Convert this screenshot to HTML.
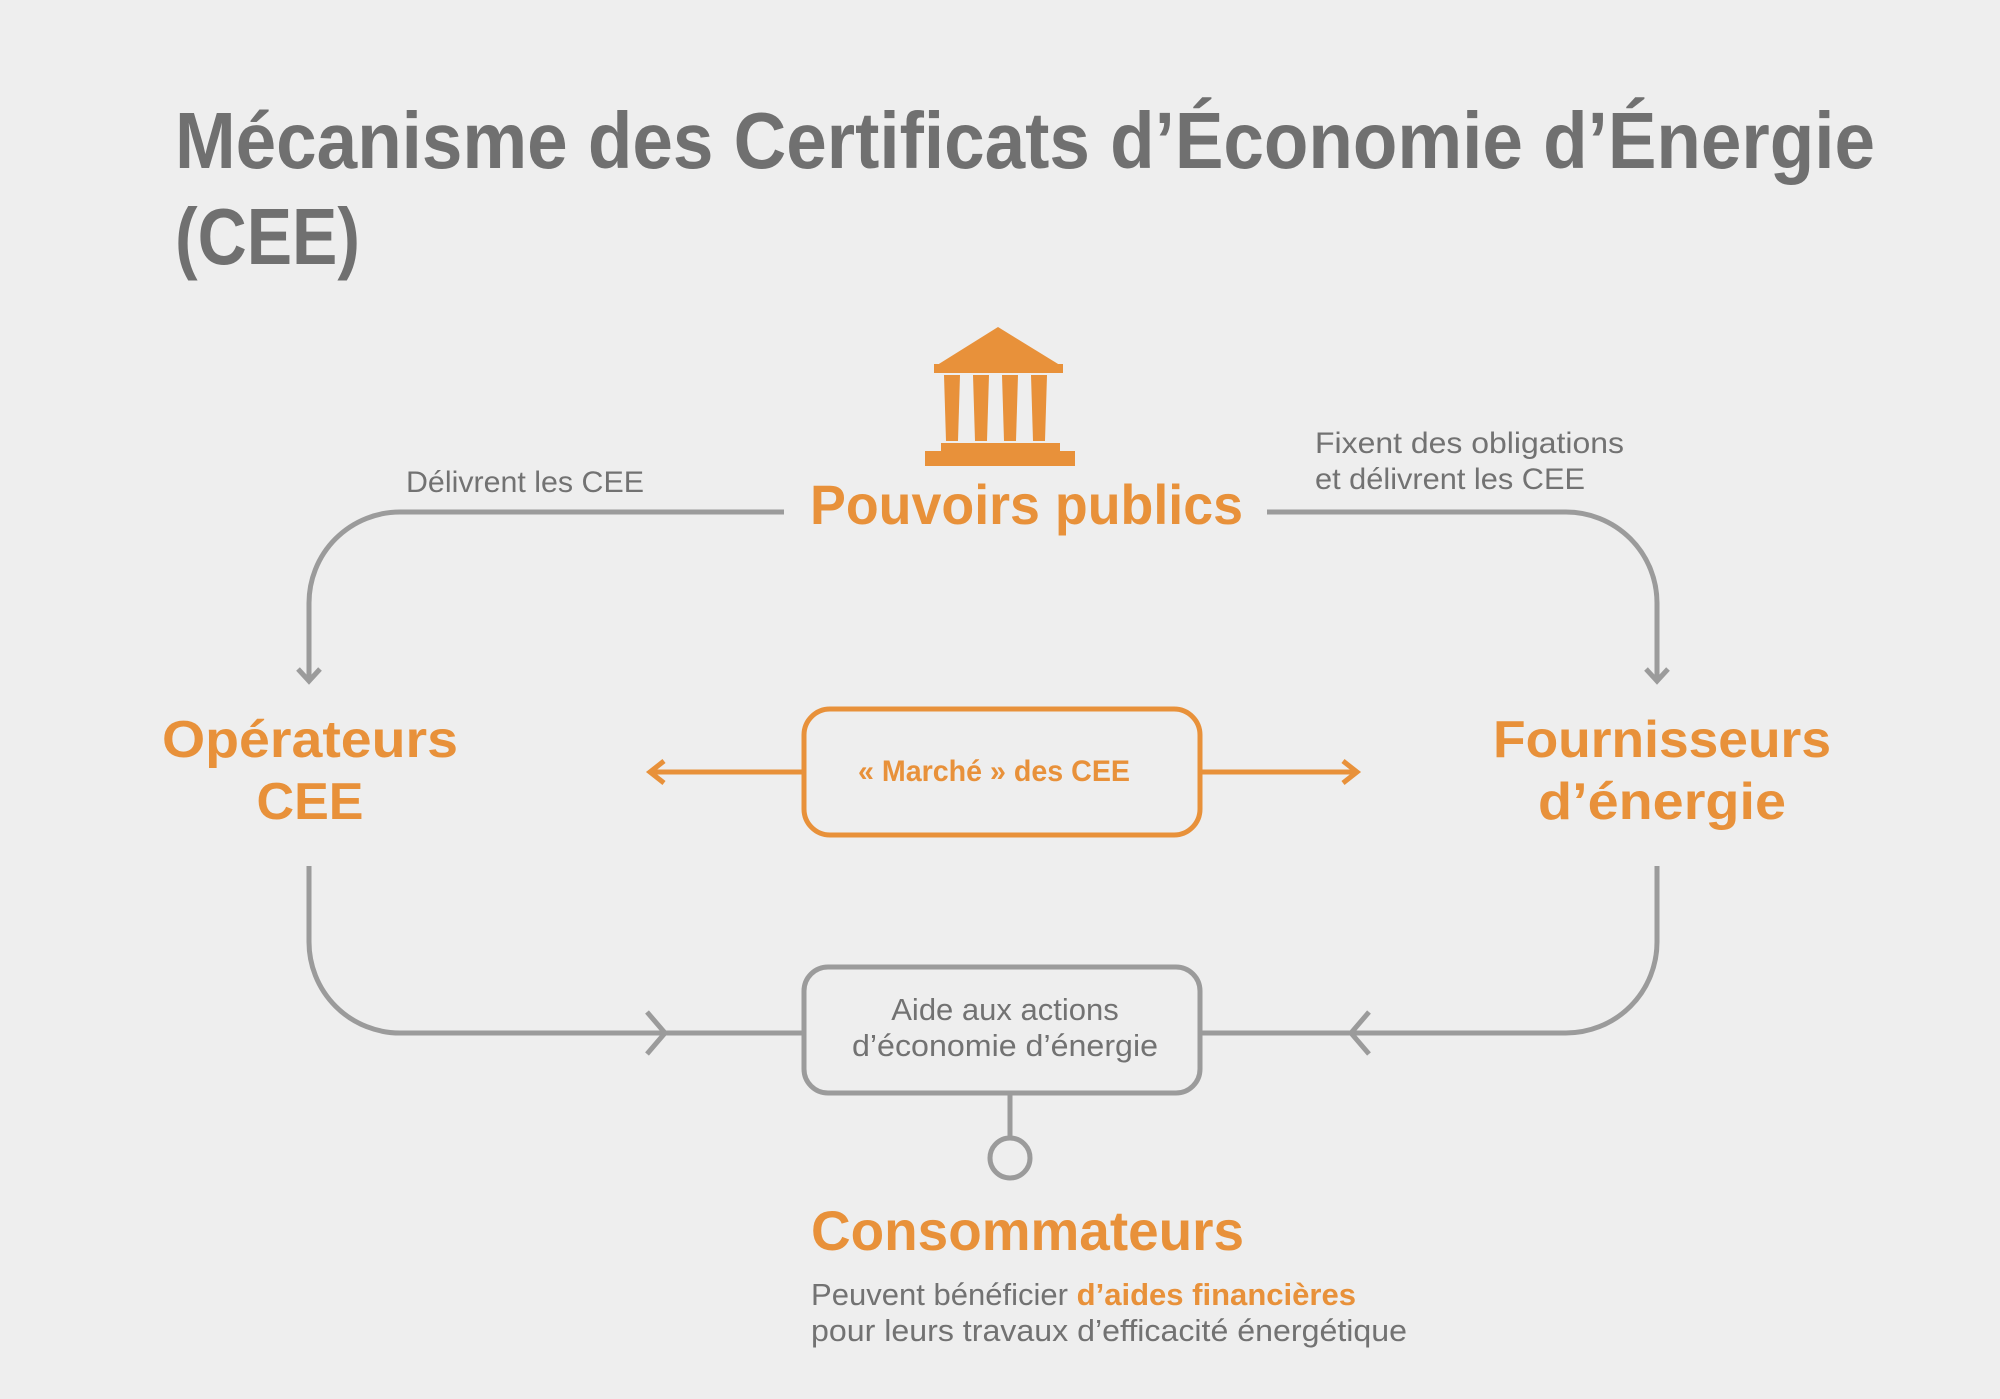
<!DOCTYPE html>
<html><head><meta charset="utf-8"><style>
html,body{margin:0;padding:0;background:#eeeeee;}
svg{display:block;}
text{font-family:"Liberation Sans",sans-serif;}
</style></head><body>
<svg width="2000" height="1399" viewBox="0 0 2000 1399" xmlns="http://www.w3.org/2000/svg">
<rect width="2000" height="1399" fill="#eeeeee"/>
<g fill="#707070" font-weight="bold" font-size="80">
<text x="175" y="168" textLength="1700" lengthAdjust="spacingAndGlyphs">Mécanisme des Certificats d’Économie d’Énergie</text>
<text x="175" y="264" textLength="185" lengthAdjust="spacingAndGlyphs">(CEE)</text>
</g>
<!-- icon -->
<g fill="#e8913a">
<polygon points="998,327 934,367 1063,367"/>
<rect x="934" y="364" width="129" height="9"/>
<polygon points="944,375 960,375 958,441 946,441"/>
<polygon points="973,375 989,375 987,441 975,441"/>
<polygon points="1002,375 1018,375 1016,441 1004,441"/>
<polygon points="1031,375 1047,375 1045,441 1033,441"/>
<rect x="941" y="443" width="119" height="8"/>
<rect x="925" y="451" width="150" height="15"/>
</g>
<text x="810" y="524" font-size="56" font-weight="bold" fill="#e8913a" textLength="433" lengthAdjust="spacingAndGlyphs">Pouvoirs publics</text>
<!-- top connectors -->
<g fill="none" stroke="#9b9b9b" stroke-width="5">
<path d="M784,512 H400 A91,91 0 0 0 309,603 V680"/>
<path d="M298,669 L309,681 L320,669"/>
<path d="M1267,512 H1566 A91,91 0 0 1 1657,603 V680"/>
<path d="M1646,669 L1657,681 L1668,669"/>
<!-- bottom -->
<path d="M309,866 V942 A91,91 0 0 0 400,1033 H804"/>
<path d="M647,1012 L665,1033 L647,1054"/>
<path d="M1657,866 V942 A91,91 0 0 1 1566,1033 H1200"/>
<path d="M1369,1012 L1351,1033 L1369,1054"/>
<rect x="804" y="967" width="396" height="126" rx="24"/>
<path d="M1010,1093 V1137"/>
<circle cx="1010" cy="1158" r="20"/>
</g>
<g fill="#727272" font-size="30">
<text x="406" y="492" textLength="238" lengthAdjust="spacingAndGlyphs">Délivrent les CEE</text>
<text x="1315" y="453" textLength="309" lengthAdjust="spacingAndGlyphs">Fixent des obligations</text>
<text x="1315" y="489" textLength="270" lengthAdjust="spacingAndGlyphs">et délivrent les CEE</text>
<text x="1005" y="1020" text-anchor="middle" font-size="31">Aide aux actions</text>
<text x="1005" y="1056" text-anchor="middle" font-size="31" textLength="306" lengthAdjust="spacingAndGlyphs">d’économie d’énergie</text>
</g>
<g fill="#e8913a" font-weight="bold" font-size="52" text-anchor="middle">
<text x="310" y="757" textLength="296" lengthAdjust="spacingAndGlyphs">Opérateurs</text>
<text x="310" y="819">CEE</text>
<text x="1662" y="757" textLength="338" lengthAdjust="spacingAndGlyphs">Fournisseurs</text>
<text x="1662" y="819" textLength="248" lengthAdjust="spacingAndGlyphs">d’énergie</text>
</g>
<!-- marché -->
<g fill="none" stroke="#e8913a" stroke-width="5">
<rect x="804" y="709" width="396" height="126" rx="26"/>
<path d="M804,772 H652"/>
<path d="M664,761 L650,772 L664,783"/>
<path d="M1200,772 H1355"/>
<path d="M1343,761 L1357,772 L1343,783"/>
</g>
<text x="994" y="781" text-anchor="middle" font-size="30" font-weight="bold" fill="#e8913a" textLength="272" lengthAdjust="spacingAndGlyphs">« Marché » des CEE</text>
<text x="811" y="1250" font-size="56" font-weight="bold" fill="#e8913a" textLength="433" lengthAdjust="spacingAndGlyphs">Consommateurs</text>
<text x="811" y="1305" font-size="31" fill="#727272" textLength="545" lengthAdjust="spacingAndGlyphs">Peuvent bénéficier <tspan fill="#e8913a" font-weight="bold">d’aides financières</tspan></text>
<text x="811" y="1341" font-size="31" fill="#727272" textLength="596" lengthAdjust="spacingAndGlyphs">pour leurs travaux d’efficacité énergétique</text>
</svg>
</body></html>
